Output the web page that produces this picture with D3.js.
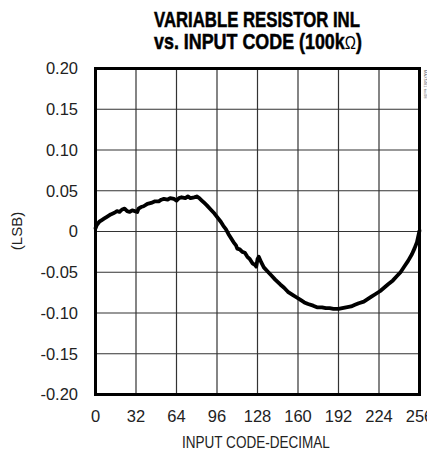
<!DOCTYPE html>
<html><head><meta charset="utf-8">
<script src="https://cdn.jsdelivr.net/npm/d3@7"></script>
<style>body{margin:0;background:#fff}svg{display:block}</style>
</head><body>
<script>
const codes = [0,1,3,5,7,9,12,15,17,19,21,23,25,27,29,31,33,34,36,38,41,44,47,50,52,54,57,59,62,64,66,68,71,73,75,78,80,82,84,86,88,91,94,96,99,101,103,105,107,109,111,112,114,116,118,120,122,124,126,127,128,129,131,133,136,139,142,146,149,152,156,159,162,165,168,172,175,179,182,185,188,192,195,198,202,205,208,212,215,218,221,225,228,231,235,238,241,244,247,250,252,254,256];
const inl = [0.004,0.008,0.012,0.014,0.016,0.018,0.021,0.023,0.025,0.024,0.027,0.028,0.025,0.024,0.026,0.025,0.024,0.028,0.030,0.031,0.034,0.035,0.037,0.037,0.039,0.040,0.039,0.041,0.040,0.038,0.041,0.042,0.041,0.043,0.041,0.042,0.043,0.041,0.038,0.035,0.032,0.027,0.022,0.018,0.012,0.007,0.003,-0.003,-0.008,-0.013,-0.017,-0.021,-0.022,-0.025,-0.026,-0.031,-0.034,-0.039,-0.041,-0.043,-0.034,-0.031,-0.038,-0.044,-0.049,-0.054,-0.059,-0.065,-0.069,-0.074,-0.078,-0.081,-0.084,-0.087,-0.089,-0.091,-0.093,-0.093,-0.094,-0.094,-0.095,-0.095,-0.094,-0.093,-0.092,-0.090,-0.088,-0.086,-0.083,-0.080,-0.077,-0.073,-0.069,-0.065,-0.060,-0.055,-0.050,-0.043,-0.036,-0.028,-0.021,-0.013,0.001];
const xTicks = [0,32,64,96,128,160,192,224,256];
const yTicks = [0.20,0.15,0.10,0.05,0,-0.05,-0.10,-0.15,-0.20];
const yTickLabels = ["0.20","0.15","0.10","0.05","0","-0.05","-0.10","-0.15","-0.20"];
const titleLine1 = "VARIABLE RESISTOR INL";
const titleLine2 = ["vs. INPUT CODE (100k", "\u03A9", ")"];
const xTitle = "INPUT CODE-DECIMAL";
const yTitle = "(LSB)";

const W = 427, H = 453;
const L = 95.5, R = 419.5, T = 68.5, B = 394.5;
const narrow = "'Liberation Sans Narrow','Arial Narrow','Liberation Sans',sans-serif";

const svg = d3.select("body").append("svg").attr("width", W).attr("height", H);
const x = d3.scaleLinear().domain([0,256]).range([L,R]);
const y = d3.scaleLinear().domain([-0.2,0.2]).range([B,T]);

// grid
const g = svg.append("g");
g.selectAll("line.v").data(xTicks.slice(1,-1)).join("line")
  .attr("x1", d=>x(d)).attr("x2", d=>x(d)).attr("y1", T).attr("y2", B)
  .attr("stroke", "#333").attr("stroke-width", 1.2);
g.selectAll("line.h").data(yTicks.slice(1,-1)).join("line")
  .attr("y1", d=>y(d)).attr("y2", d=>y(d)).attr("x1", L).attr("x2", R)
  .attr("stroke", "#333").attr("stroke-width", 1.2);

// curve
const line = d3.line().x((d,i)=>x(codes[i])).y(d=>y(d)).curve(d3.curveLinear);
svg.append("path").attr("d", line(inl)).attr("fill","none")
  .attr("stroke","#000").attr("stroke-width",3.8)
  .attr("stroke-linejoin","round").attr("stroke-linecap","round");

// frame
svg.append("rect").attr("x", L).attr("y", T).attr("width", R-L).attr("height", B-T)
  .attr("fill","none").attr("stroke","#000").attr("stroke-width",3);

// y tick labels
svg.append("g").selectAll("text").data(yTicks).join("text")
  .attr("x", 78).attr("y", d=>y(d)).attr("dy","0.36em")
  .attr("text-anchor","end").attr("font-family", narrow).attr("font-size", 16.5)
  .attr("fill","#222").text((d,i)=>yTickLabels[i]);

// x tick labels
svg.append("g").selectAll("text").data(xTicks).join("text")
  .attr("x", d=>x(d)).attr("y", 421.5)
  .attr("text-anchor","middle").attr("font-family", narrow).attr("font-size", 16.5)
  .attr("fill","#222").text(d=>d);

// axis titles
const xt = svg.append("text").attr("x", 0).attr("y", 0)
  .attr("font-family", narrow).attr("font-size", 17).attr("fill","#222").text(xTitle);
const xtw = xt.node().getComputedTextLength();
xt.attr("transform", `translate(${182},448) scale(${148/xtw},1)`);
svg.append("text").attr("transform","translate(22,231) rotate(-90)")
  .attr("text-anchor","middle").attr("font-family", narrow).attr("font-size", 15)
  .attr("fill","#222").text(yTitle);

// title
const t1 = svg.append("text").attr("x",0).attr("y",0)
  .attr("font-family", narrow).attr("font-weight","bold").attr("font-size", 21.5)
  .attr("fill","#000").attr("stroke","#000").attr("stroke-width",0.5).text(titleLine1);
const w1 = t1.node().getComputedTextLength();
t1.attr("transform", `translate(154,26.5) scale(${206/w1},1)`);
const t2 = svg.append("text").attr("x",0).attr("y",0)
  .attr("font-family", narrow).attr("font-weight","bold").attr("font-size", 21.5)
  .attr("fill","#000").attr("stroke","#000").attr("stroke-width",0.5);
t2.append("tspan").text(titleLine2[0]);
t2.append("tspan").attr("font-weight","normal").attr("stroke-width",0)
  .attr("font-family","'Liberation Sans',sans-serif").attr("font-size",18).text(titleLine2[1]);
t2.append("tspan").text(titleLine2[2]);
const w2 = t2.node().getComputedTextLength();
t2.attr("transform", `translate(154,49) scale(${208/w2},1)`);

// tiny side code
svg.append("text").attr("transform","translate(424,70) rotate(90)")
  .attr("font-family","'Liberation Sans',sans-serif").attr("font-size",4).attr("fill","#666")
  .text("MAX5481 toc08");
</script>
</body></html>
